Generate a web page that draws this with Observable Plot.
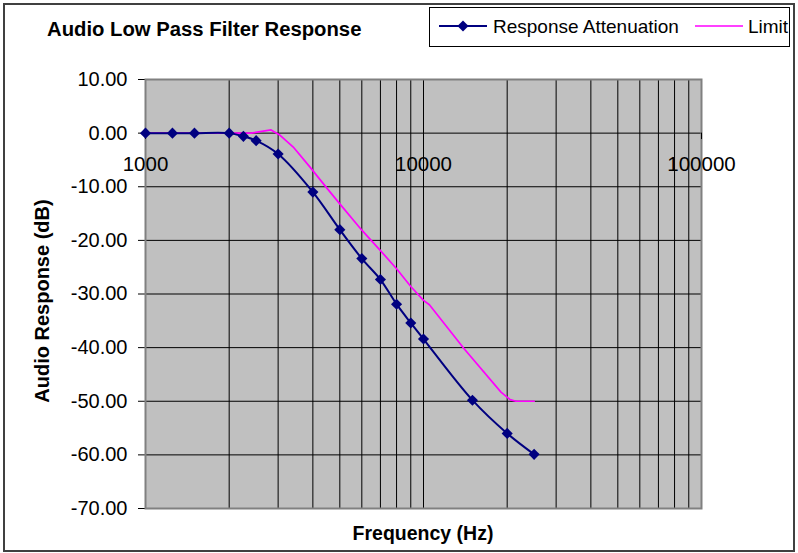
<!DOCTYPE html>
<html>
<head>
<meta charset="utf-8">
<script src="https://cdn.jsdelivr.net/npm/d3@7"></script>
<script src="https://cdn.jsdelivr.net/npm/@observablehq/plot@0.6"></script>
<style>
  html, body { margin: 0; padding: 0; background: #fff; }
  #wrap { position: relative; width: 798px; height: 553px; overflow: hidden;
          font-family: "Liberation Sans", Arial, sans-serif; color: #000; }
  #border { position: absolute; left: 3px; top: 3px; width: 788px; height: 545px;
            border: 2px solid #404040; pointer-events: none; }
  #title { position: absolute; left: 47px; top: 19px; font-size: 20.3px; font-weight: bold;
           line-height: 20px; white-space: nowrap; }
  #ytitle { position: absolute; left: 42px; top: 301px; font-size: 20px; font-weight: bold;
            line-height: 20px; white-space: nowrap; transform: translate(-50%, -50%) rotate(-90deg); }
  #xtitle { position: absolute; left: 423px; top: 523px; font-size: 19.5px; font-weight: bold;
            line-height: 20px; white-space: nowrap; transform: translateX(-50%); }
  #legend { position: absolute; left: 429px; top: 7px; width: 359px; height: 38px;
            border: 1px solid #000; background: #fff; }
  #chart { position: absolute; left: 0; top: 0; }
</style>
</head>
<body>
<div id="wrap">
  <div id="chart"></div>
  <div id="title">Audio Low Pass Filter Response</div>
  <div id="ytitle">Audio Response (dB)</div>
  <div id="xtitle">Frequency (Hz)</div>
  <div id="legend"></div>
  <div id="border"></div>
</div>
<script>
// ---- data ----
const seriesNames = ["Response Attenuation", "Limit"];
const responseFreq = [1000, 1250, 1500, 2000, 2250, 2500, 3000, 4000, 5000, 6000, 7000, 8000, 9000, 10000, 15000, 20000, 25000];
const responseDb   = [0, 0, 0, 0, -0.6, -1.4, -3.9, -11.0, -18.0, -23.4, -27.3, -31.9, -35.4, -38.4, -49.8, -56.0, -59.9];
const limitFreq = [1000, 2000, 2400, 2830, 3050, 3400, 3900, 4500, 5000, 6000, 7000, 8000, 9000, 10000, 10500, 14000, 19000, 20500, 21500, 25000];
const limitDb   = [0, 0, 0, 0.6, -0.4, -2.6, -6.3, -10.3, -13.2, -18.1, -21.9, -25.3, -28.6, -31.2, -32.0, -40.2, -48.3, -49.7, -50.0, -50.0];
const yTicks = [10, 0, -10, -20, -30, -40, -50, -60, -70];
const xTickLabels = [1000, 10000, 100000];
const gridFreqs = [1000, 2000, 3000, 4000, 5000, 6000, 7000, 8000, 9000,
                   10000, 20000, 30000, 40000, 50000, 60000, 70000, 80000, 90000, 100000];

const response = responseFreq.map((f, i) => ({f, db: responseDb[i]}));
const limit = limitFreq.map((f, i) => ({f, db: limitDb[i]}));

const navy = "#000080", magenta = "#FF00FF";

const chart = Plot.plot({
  width: 798,
  height: 553,
  marginLeft: 145,
  marginRight: 97,
  marginTop: 79,
  marginBottom: 45,
  style: {fontFamily: "'Liberation Sans', Arial, sans-serif", fontSize: "20px", color: "#000", background: "transparent", overflow: "visible"},
  x: {type: "log", domain: [1000, 100000], axis: null},
  y: {domain: [-70, 10], ticks: yTicks, tickFormat: d => d.toFixed(2), tickSize: 7, tickPadding: 11, label: null},
  marks: [
    Plot.frame({fill: "#C0C0C0"}),
    Plot.ruleX(gridFreqs, {stroke: "#000", strokeWidth: 1}),
    Plot.ruleY(yTicks, {stroke: "#000", strokeWidth: 1}),
    Plot.frame({stroke: "#808080", strokeWidth: 2}),
    Plot.ruleX(xTickLabels, {y1: 0, y2: -1.2, stroke: "#000"}),
    Plot.text(xTickLabels, {x: d => d, y: 0, dy: 31, text: d => String(d), fontSize: 20.5, fill: "#000"}),
    Plot.line(limit, {x: "f", y: "db", stroke: magenta, strokeWidth: 1.7, curve: "linear"}),
    Plot.line(response, {x: "f", y: "db", stroke: navy, strokeWidth: 2, curve: "catmull-rom"}),
    Plot.dot(response, {x: "f", y: "db", symbol: "diamond2", r: 5, fill: navy, stroke: "none"})
  ]
});
document.getElementById("chart").appendChild(chart);

// ---- legend ----
const lg = d3.select("#legend").append("svg").attr("width", 359).attr("height", 38)
  .style("font-family", "'Liberation Sans', Arial, sans-serif");
lg.append("line").attr("x1", 9).attr("x2", 57).attr("y1", 18).attr("y2", 18).attr("stroke", navy).attr("stroke-width", 2);
lg.append("path").attr("d", d3.symbol(d3.symbolDiamond2, Math.PI * 5 * 5)()).attr("transform", "translate(33,18)").attr("fill", navy);
lg.append("text").attr("x", 63).attr("y", 24.5).attr("font-size", 19).text(seriesNames[0]);
lg.append("line").attr("x1", 265).attr("x2", 313).attr("y1", 18).attr("y2", 18).attr("stroke", magenta).attr("stroke-width", 1.7);
lg.append("text").attr("x", 318).attr("y", 24.5).attr("font-size", 19).text(seriesNames[1]);
</script>
</body>
</html>
